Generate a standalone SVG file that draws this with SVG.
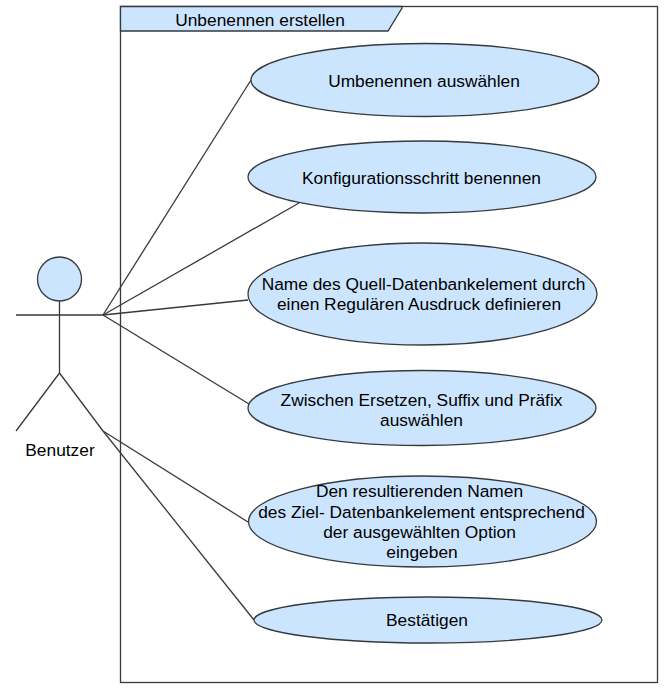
<svg xmlns="http://www.w3.org/2000/svg" width="664" height="690" viewBox="0 0 664 690">
<style>
.s{fill:#cce5ff;stroke:#36393d;stroke-width:1.3}
.l{fill:none;stroke:#36393d;stroke-width:1.3}
text{font-family:"Liberation Sans",Arial,sans-serif;font-size:17.33px;fill:#000;text-anchor:middle}
</style>
<rect width="664" height="690" fill="#fff"/>
<g id="frame">
<rect x="120.500" y="6.500" width="537" height="676" fill="#fff" stroke="#36393d" stroke-width="1.300"/>
<path class="s" d="M120.500 6.500H402V8L388 31H120.500Z"/>
<text x="260" y="26">Unbenennen erstellen</text>
</g>
<g id="connectors">
<path class="l" d="M103 315L251 80"/>
<path class="l" d="M103 315L299 203"/>
<path class="l" d="M103 315L248 300"/>
<path class="l" d="M103 315L249 404"/>
<path class="l" d="M103 431L248 522"/>
<path class="l" d="M103 431L254 620"/>
</g>
<g id="actor">
<ellipse class="s" cx="59.500" cy="279" rx="22" ry="22"/>
<path class="l" d="M59.500 301V373M16 315H103M59.500 373L16 431M59.500 373L103 431"/>
<text x="60" y="456">Benutzer</text>
</g>
<g id="uc1"><ellipse class="s" cx="425" cy="80" rx="174" ry="36.500"/><text x="424" y="87">Umbenennen auswählen</text></g>
<g id="uc2"><ellipse class="s" cx="422" cy="177" rx="174" ry="36"/><text x="421.500" y="184">Konfigurationsschritt benennen</text></g>
<g id="uc3"><ellipse class="s" cx="422.500" cy="294" rx="174.500" ry="51"/><text x="423.500" y="290">Name des Quell-Datenbankelement durch</text><text x="419" y="310">einen Regulären Ausdruck definieren</text></g>
<g id="uc4"><ellipse class="s" cx="422" cy="408" rx="174" ry="37.500"/><text x="421.500" y="406">Zwischen Ersetzen, Suffix und Präfix</text><text x="421.500" y="426">auswählen</text></g>
<g id="uc5"><ellipse class="s" cx="422.500" cy="521.500" rx="174" ry="45.500"/><text x="419.500" y="497">Den resultierenden Namen</text><text x="421.500" y="518">des Ziel- Datenbankelement entsprechend</text><text x="419.500" y="538">der ausgewählten Option</text><text x="422" y="558">eingeben</text></g>
<g id="uc6"><ellipse class="s" cx="428" cy="620" rx="174" ry="23"/><text x="427" y="626">Bestätigen</text></g>
</svg>
